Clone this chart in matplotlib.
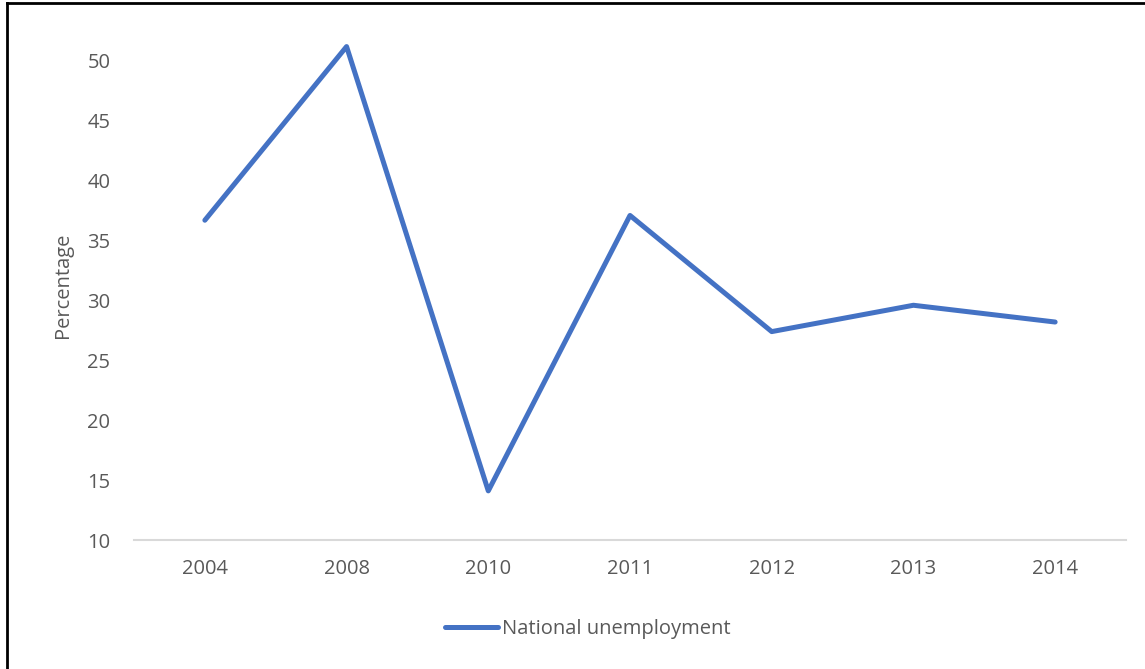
import matplotlib
matplotlib.use("Agg")
import matplotlib.pyplot as plt
from matplotlib.lines import Line2D

years = ["2004", "2008", "2010", "2011", "2012", "2013", "2014"]
unemployment = [36.7, 51.2, 14.1, 37.1, 27.4, 29.6, 28.2]
y_ticks = [10, 15, 20, 25, 30, 35, 40, 45, 50]

plt.rcParams["font.family"] = ["Open Sans", "DejaVu Sans"]
text_color = "#595959"
line_color = "#4472C4"

fig = plt.figure(figsize=(11.45, 6.69), dpi=100)
ax = fig.add_axes([134 / 1145, 1 - 540 / 669, (1126 - 134) / 1145, (540 - 31) / 669])

x = list(range(len(years)))
ax.plot(x, unemployment, color=line_color, linewidth=3.6, solid_joinstyle="round",
        solid_capstyle="round", label="National unemployment")

ax.set_xlim(-0.5, len(years) - 0.5)
ax.set_ylim(10, 52.5)
ax.set_xticks(x)
ax.set_xticklabels(years)
ax.set_yticks(y_ticks)

for side in ["top", "right", "left"]:
    ax.spines[side].set_visible(False)
ax.spines["bottom"].set_color("#d9d9d9")
ax.spines["bottom"].set_linewidth(1.5)
ax.tick_params(axis="both", length=0, labelsize=14.5, colors=text_color)
ax.tick_params(axis="y", pad=17)
ax.tick_params(axis="x", pad=14)

ax.set_ylabel("Percentage", fontsize=14.5, color=text_color, labelpad=10)

handle = Line2D([], [], color=line_color, linewidth=3.6, solid_capstyle="round")
fig.legend([handle], ["National unemployment"], loc="center",
           bbox_to_anchor=(588 / 1145, 1 - 629 / 669), frameon=False,
           fontsize=14.5, labelcolor=text_color, handlelength=2.6, handletextpad=0.2)

# frame lines along the top and left edges
fig.add_artist(Line2D([7 / 1145, 7 / 1145], [0, 1 - 3 / 669], color="black", linewidth=2,
                      transform=fig.transFigure))
fig.add_artist(Line2D([7 / 1145, 1], [1 - 3 / 669, 1 - 3 / 669], color="black", linewidth=2,
                      transform=fig.transFigure))

fig.savefig("out.png", dpi=100)
